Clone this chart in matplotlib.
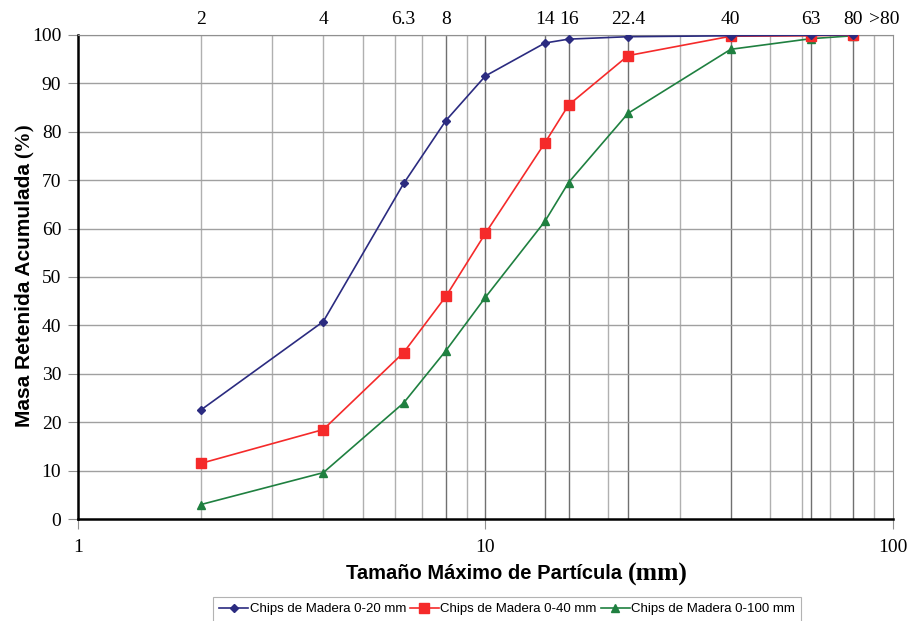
import matplotlib
matplotlib.use('Agg')
import matplotlib.pyplot as plt
from matplotlib.ticker import NullFormatter

# tamaños de tamiz (mm)
sizes = [2, 4, 6.3, 8, 10, 14, 16, 22.4, 40, 63, 80]
top_labels = ['2', '4', '6.3', '8', '14', '16', '22.4', '40', '63', '80']
top_pos = [2, 4, 6.3, 8, 14, 16, 22.4, 40, 63, 80]

chips_20 = [22.5, 40.8, 69.3, 82.3, 91.5, 98.3, 99.1, 99.6, 99.8, 99.9, 100]
chips_40 = [11.5, 18.5, 34.4, 46.0, 59.0, 77.7, 85.5, 95.7, 99.7, 99.8, 100]
chips_100 = [3.0, 9.6, 24.0, 34.8, 45.8, 61.5, 69.5, 83.8, 97.0, 99.2, 99.8]

serif = 'Liberation Serif'
sans = 'Liberation Sans'

fig = plt.figure(figsize=(9.12, 6.21), dpi=100)
ax = fig.add_axes([0.0855, 0.164, 0.8935, 0.78])

ax.plot(sizes, chips_20, color='#2b2b80', marker='D', markersize=4.5, lw=1.2,
        label='Chips de Madera 0-20 mm', zorder=4)
ax.plot(sizes, chips_40, color='#f52a2a', marker='s', markersize=6.5, lw=1.2,
        label='Chips de Madera 0-40 mm', zorder=3)
ax.plot(sizes, chips_100, color='#1f8040', marker='^', markersize=6, lw=1.2,
        label='Chips de Madera 0-100 mm', zorder=2)

ax.set_xscale('log')
ax.set_xlim(1, 100)
ax.set_ylim(0, 100)
ax.set_yticks(range(0, 101, 10))
ax.set_xticks([1, 10, 100])
ax.set_xticklabels(['1', '10', '100'])
ax.xaxis.set_minor_formatter(NullFormatter())

# rejilla
minors = [2, 3, 4, 5, 6, 7, 9, 20, 30, 50, 60, 70, 90]
for v in minors:
    ax.axvline(v, color='#b0b0b0', lw=1, zorder=0)
for v in [8, 10, 14, 16, 22.4, 40, 63, 80]:
    ax.axvline(v, color='#707070', lw=1, zorder=0)
for v in range(10, 101, 10):
    ax.axhline(v, color='#a0a0a0', lw=1, zorder=0)

for s in ['top', 'right']:
    ax.spines[s].set_color('#909090')
for s in ['left', 'bottom']:
    ax.spines[s].set_color('black')
    ax.spines[s].set_linewidth(1.8)

ax.tick_params(axis='y', direction='out', length=7, color='#909090', labelsize=14, pad=5)
ax.tick_params(axis='x', which='major', direction='out', length=7, color='#909090',
               labelsize=14, pad=7)
ax.tick_params(axis='x', which='minor', length=0)
for lab in ax.get_xticklabels() + ax.get_yticklabels():
    lab.set_fontfamily(serif)

# etiquetas superiores
for p, t in zip(top_pos, top_labels):
    ax.text(p, 101.5, t, ha='center', va='bottom', fontsize=14, family=serif)
ax.text(95, 101.5, '>80', ha='center', va='bottom', fontsize=14, family=serif)

# títulos de ejes
fig.text(0.688, 0.077, 'Tamaño Máximo de Partícula ', ha='right', va='center',
         fontsize=14.5, fontweight='bold', family=sans)
fig.text(0.688, 0.075, '(mm)', ha='left', va='center',
         fontsize=18.5, fontweight='bold', family=serif)
fig.text(0.027, 0.746, 'Masa Retenida Acumulada ', ha='center', va='top', rotation=90,
         fontsize=15, fontweight='bold', family=sans)
fig.text(0.027, 0.746, '(%)', ha='center', va='bottom', rotation=90,
         fontsize=15, fontweight='bold', family=serif)

leg = fig.legend(loc='upper center', bbox_to_anchor=(0.556, 0.05), ncol=3,
                 frameon=True, fancybox=False, edgecolor='#a0a0a0',
                 prop={'family': sans, 'size': 9.5}, handlelength=2.2,
                 handletextpad=0.1, columnspacing=0.3, borderpad=0.5)
leg.get_frame().set_linewidth(0.8)

plt.savefig('out.png', dpi=100)
